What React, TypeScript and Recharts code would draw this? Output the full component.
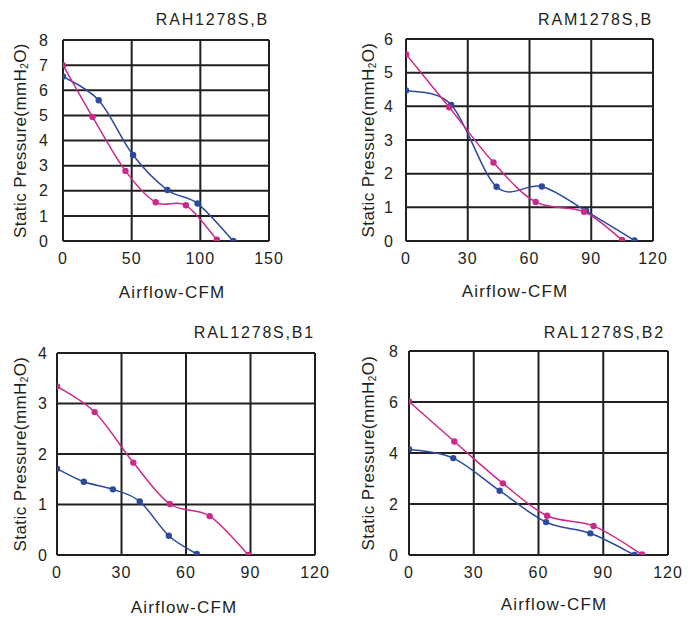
import React from 'react';
import { LineChart, Line, XAxis, YAxis, CartesianGrid } from 'recharts';

// airflow (CFM) / static pressure (mmH2O)
const rahFlowBlue = [0, 26, 51, 76, 98, 124];
const rahPressBlue = [6.55, 5.6, 3.42, 2.03, 1.49, 0];
const rahFlowPink = [0, 21.5, 45.5, 67.5, 89.5, 112];
const rahPressPink = [7.0, 4.94, 2.79, 1.54, 1.42, 0.05];

const ramFlowBlue = [0, 22, 44, 66, 87.5, 111];
const ramPressBlue = [4.47, 4.04, 1.61, 1.62, 0.89, 0.02];
const ramFlowPink = [0, 21, 42.5, 63, 86.5, 105];
const ramPressPink = [5.55, 3.97, 2.33, 1.16, 0.87, 0.03];

const b1FlowBlue = [0, 12.5, 26, 38.5, 52, 65];
const b1PressBlue = [1.71, 1.45, 1.3, 1.06, 0.38, 0.02];
const b1FlowPink = [0, 17.5, 35.5, 52.5, 71, 89];
const b1PressPink = [3.34, 2.83, 1.83, 1.01, 0.77, 0];

const b2FlowBlue = [0, 20.5, 42, 63.5, 84, 104.5];
const b2PressBlue = [4.15, 3.8, 2.52, 1.29, 0.85, 0];
const b2FlowPink = [0, 21, 43.5, 64, 85.5, 108];
const b2PressPink = [6.02, 4.45, 2.81, 1.54, 1.14, 0.02];

const ticks150 = [0, 50, 100, 150];
const ticks120 = [0, 30, 60, 90, 120];
const ticks8 = [0, 1, 2, 3, 4, 5, 6, 7, 8];
const ticks6 = [0, 1, 2, 3, 4, 5, 6];
const ticks4 = [0, 1, 2, 3, 4];
const ticks8by2 = [0, 2, 4, 6, 8];

const FONT = '"Liberation Sans", Arial, Helvetica, sans-serif';
const INK = '#231f20';
const BLUE = '#2b4a9e';
const PINK = '#cc2a8a';
const W = 698;
const H = 617;
const YW = 20;
const XH = 30;

const toPoints = (xs: number[], ys: number[]) => xs.map((x, i) => ({ x, y: ys[i] }));

// smooth curve through every point (catmull-rom), similar to the spreadsheet "smoothed line"
const smoothCurve = (context: any) => {
  let pts: number[][] = [];
  return {
    areaStart() {},
    areaEnd() {},
    lineStart() { pts = []; },
    point(x: number, y: number) { pts.push([+x, +y]); },
    lineEnd() {
      if (!pts.length) return;
      context.moveTo(pts[0][0], pts[0][1]);
      for (let i = 0; i < pts.length - 1; i++) {
        const p0 = pts[i - 1] || pts[i];
        const p1 = pts[i];
        const p2 = pts[i + 1];
        const p3 = pts[i + 2] || p2;
        const k = 6;
        context.bezierCurveTo(
          p1[0] + (p2[0] - p0[0]) / k, p1[1] + (p2[1] - p0[1]) / k,
          p2[0] - (p3[0] - p1[0]) / k, p2[1] - (p3[1] - p1[1]) / k,
          p2[0], p2[1]
        );
      }
    },
  };
};

interface PanelProps {
  title: string;
  rect: { l: number; t: number; r: number; b: number };
  xTicks: number[];
  yTicks: number[];
  blue: { x: number; y: number }[];
  pink: { x: number; y: number }[];
  yGap: number;
  titleBase: number;
  titleRight: number;
  xTitleX: number;
  xTitleBase: number;
  yTitleX: number;
}

const Panel = ({ title, rect, xTicks, yTicks, blue, pink, yGap, titleBase, titleRight, xTitleX, xTitleBase, yTitleX }: PanelProps) => {
  const cy = (rect.t + rect.b) / 2;
  return (
    <div style={{ position: 'absolute', left: 0, top: 0 }}>
      <LineChart
        width={W}
        height={H}
        margin={{ top: rect.t, left: rect.l - YW, right: W - rect.r, bottom: H - rect.b - XH }}
      >
        <CartesianGrid stroke={INK} strokeWidth={2} horizontalValues={yTicks} verticalValues={xTicks} />
        <XAxis
          type="number"
          dataKey="x"
          domain={[xTicks[0], xTicks[xTicks.length - 1]]}
          ticks={xTicks}
          height={XH}
          axisLine={false}
          tickLine={false}
          tickSize={0}
          tickMargin={12}
          tick={{ fontSize: 16, fill: INK, fontFamily: FONT, letterSpacing: 1 }}
          allowDataOverflow
        />
        <YAxis
          type="number"
          dataKey="y"
          domain={[yTicks[0], yTicks[yTicks.length - 1]]}
          ticks={yTicks}
          width={YW}
          axisLine={false}
          tickLine={false}
          tickSize={0}
          tickMargin={yGap}
          tick={{ fontSize: 16, fill: INK, fontFamily: FONT }}
          allowDataOverflow
        />
        <Line
          data={blue}
          dataKey="y"
          type={smoothCurve as any}
          stroke={BLUE}
          strokeWidth={1.5}
          dot={{ r: 3.2, fill: BLUE, stroke: BLUE, strokeWidth: 0 }}
          isAnimationActive={false}
        />
        <Line
          data={pink}
          dataKey="y"
          type={smoothCurve as any}
          stroke={PINK}
          strokeWidth={1.5}
          dot={{ r: 3.2, fill: PINK, stroke: PINK, strokeWidth: 0 }}
          isAnimationActive={false}
        />
        <text x={titleRight} y={titleBase} textAnchor="end" fontSize={16} letterSpacing={1.8} fill={INK} fontFamily={FONT}>
          {title}
        </text>
        <text x={xTitleX} y={xTitleBase} textAnchor="middle" fontSize={17} letterSpacing={1.2} fill={INK} fontFamily={FONT}>
          Airflow-CFM
        </text>
        <text
          x={yTitleX}
          y={cy}
          transform={`rotate(-90 ${yTitleX} ${cy})`}
          textAnchor="middle"
          dominantBaseline="central"
          fontSize={17}
          letterSpacing={0.4}
          fill={INK}
          fontFamily={FONT}
        >
          Static Pressure(mmH<tspan fontSize={10} dy={4}>2</tspan><tspan dy={-4}>O)</tspan>
        </text>
      </LineChart>
    </div>
  );
};

export default function App() {
  return (
    <div style={{ position: 'absolute', left: 0, top: 0, width: W, height: H, background: '#fff', fontFamily: FONT }}>
      <Panel
        title="RAH1278S,B"
        rect={{ l: 63, t: 40, r: 269, b: 241 }}
        xTicks={ticks150}
        yTicks={ticks8}
        blue={toPoints(rahFlowBlue, rahPressBlue)}
        pink={toPoints(rahFlowPink, rahPressPink)}
        yGap={15}
        titleBase={25}
        titleRight={269}
        xTitleX={172}
        xTitleBase={298}
        yTitleX={20}
      />
      <Panel
        title="RAM1278S,B"
        rect={{ l: 406, t: 39, r: 653, b: 241 }}
        xTicks={ticks120}
        yTicks={ticks6}
        blue={toPoints(ramFlowBlue, ramPressBlue)}
        pink={toPoints(ramFlowPink, ramPressPink)}
        yGap={13}
        titleBase={25}
        titleRight={653}
        xTitleX={515}
        xTitleBase={297}
        yTitleX={368}
      />
      <Panel
        title="RAL1278S,B1"
        rect={{ l: 57, t: 353, r: 315, b: 555 }}
        xTicks={ticks120}
        yTicks={ticks4}
        blue={toPoints(b1FlowBlue, b1PressBlue)}
        pink={toPoints(b1FlowPink, b1PressPink)}
        yGap={10}
        titleBase={338}
        titleRight={315}
        xTitleX={184}
        xTitleBase={613}
        yTitleX={20}
      />
      <Panel
        title="RAL1278S,B2"
        rect={{ l: 409, t: 351, r: 668, b: 555 }}
        xTicks={ticks120}
        yTicks={ticks8by2}
        blue={toPoints(b2FlowBlue, b2PressBlue)}
        pink={toPoints(b2FlowPink, b2PressPink)}
        yGap={11}
        titleBase={338}
        titleRight={665}
        xTitleX={554}
        xTitleBase={610}
        yTitleX={368}
      />
    </div>
  );
}
